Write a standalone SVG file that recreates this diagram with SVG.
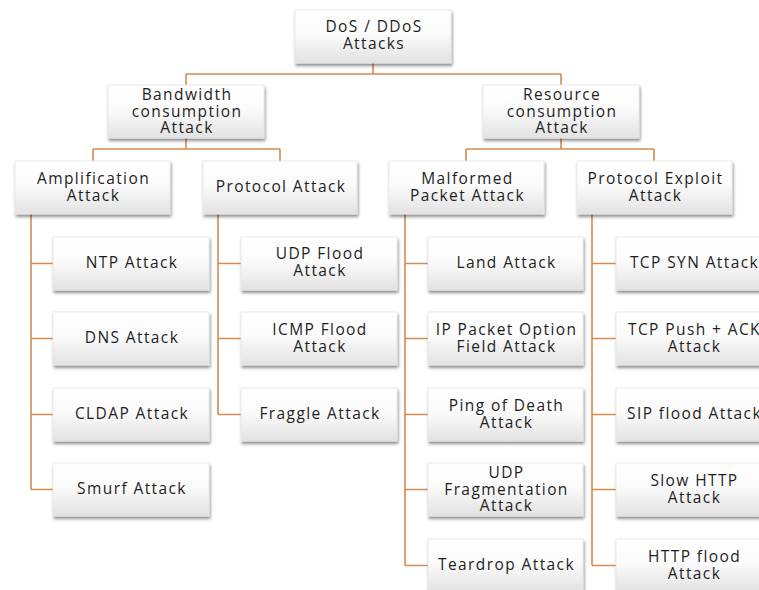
<svg xmlns="http://www.w3.org/2000/svg" width="759" height="590" viewBox="0 0 759 590">
  <defs>
    <linearGradient id="boxFill" x1="0" y1="0" x2="0" y2="1">
      <stop offset="0" stop-color="#ffffff"/>
      <stop offset="0.45" stop-color="#fbfbfb"/>
      <stop offset="1" stop-color="#e2e2e2"/>
    </linearGradient>
    <filter id="shadow" x="-10%" y="-10%" width="125%" height="140%">
      <feDropShadow dx="1" dy="2.5" stdDeviation="1.6" flood-color="#000" flood-opacity="0.45"/>
    </filter>
  </defs>
  <style>
    .box { fill: url(#boxFill); stroke: #e6e6e6; stroke-width: 0.8; filter: url(#shadow); }
    .lbl { font-family: "Open Sans", "DejaVu Sans", sans-serif; font-size: 15.5px; font-weight: 500; letter-spacing: 1.4px; fill: #1e1e1e; text-anchor: middle; }
    .conn { fill: none; stroke: #d58a4f; stroke-width: 1.6; }
  </style>
  <rect width="759" height="590" fill="#ffffff"/>

  <!-- connectors -->
  <g id="connectors" class="conn">
    <path d="M373 63 V74 M186 74 H561 M186 74 V85 M561 74 V85"/>
    <path d="M186 138 V149 M93 149 H280 M93 149 V161 M280 149 V161"/>
    <path d="M561 138 V149 M466 149 H654 M466 149 V161 M654 149 V161"/>
    <path d="M31 214 V489.5 M31 263.5 H53 M31 338.5 H53 M31 414.5 H53 M31 489.5 H53"/>
    <path d="M218 214 V414.5 M218 263.5 H241 M218 338.5 H241 M218 414.5 H241"/>
    <path d="M405 214 V565.5 M405 263.5 H428 M405 338.5 H428 M405 414.5 H428 M405 489.5 H428 M405 565.5 H428"/>
    <path d="M592 214 V565.5 M592 263.5 H616 M592 338.5 H616 M592 414.5 H616 M592 489.5 H616 M592 565.5 H616"/>
  </g>

  <!-- level 0 -->
  <g id="root">
    <rect class="box" x="295" y="10" width="156" height="53"/>
    <text class="lbl" x="374" y="32">DoS / DDoS</text>
    <text class="lbl" x="374" y="49">Attacks</text>
  </g>

  <!-- level 1 -->
  <g id="bandwidth">
    <rect class="box" x="108" y="85" width="156" height="53"/>
    <text class="lbl" x="187" y="100">Bandwidth</text>
    <text class="lbl" x="187" y="117">consumption</text>
    <text class="lbl" x="187" y="133">Attack</text>
  </g>
  <g id="resource">
    <rect class="box" x="483" y="85" width="156" height="53"/>
    <text class="lbl" x="562" y="100">Resource</text>
    <text class="lbl" x="562" y="117">consumption</text>
    <text class="lbl" x="562" y="133">Attack</text>
  </g>

  <!-- level 2 -->
  <g id="amplification">
    <rect class="box" x="15" y="161" width="155" height="53"/>
    <text class="lbl" x="93.5" y="184">Amplification</text>
    <text class="lbl" x="93.5" y="201">Attack</text>
  </g>
  <g id="protocol">
    <rect class="box" x="203" y="161" width="154" height="53"/>
    <text class="lbl" x="281" y="192">Protocol Attack</text>
  </g>
  <g id="malformed">
    <rect class="box" x="389" y="161" width="155" height="53"/>
    <text class="lbl" x="467.5" y="184">Malformed</text>
    <text class="lbl" x="467.5" y="201">Packet Attack</text>
  </g>
  <g id="exploit">
    <rect class="box" x="577" y="161" width="155" height="53"/>
    <text class="lbl" x="655.5" y="184">Protocol Exploit</text>
    <text class="lbl" x="655.5" y="201">Attack</text>
  </g>

  <!-- amplification leaves -->
  <g id="ntp">
    <rect class="box" x="53" y="237" width="156" height="53"/>
    <text class="lbl" x="132" y="268">NTP Attack</text>
  </g>
  <g id="dns">
    <rect class="box" x="53" y="312" width="156" height="53"/>
    <text class="lbl" x="132" y="343">DNS Attack</text>
  </g>
  <g id="cldap">
    <rect class="box" x="53" y="388" width="156" height="53"/>
    <text class="lbl" x="132" y="419">CLDAP Attack</text>
  </g>
  <g id="smurf">
    <rect class="box" x="53" y="463" width="156" height="53"/>
    <text class="lbl" x="132" y="494">Smurf Attack</text>
  </g>

  <!-- protocol leaves -->
  <g id="udp-flood">
    <rect class="box" x="241" y="237" width="156" height="53"/>
    <text class="lbl" x="320" y="259">UDP Flood</text>
    <text class="lbl" x="320" y="276">Attack</text>
  </g>
  <g id="icmp-flood">
    <rect class="box" x="241" y="312" width="156" height="53"/>
    <text class="lbl" x="320" y="335">ICMP Flood</text>
    <text class="lbl" x="320" y="352">Attack</text>
  </g>
  <g id="fraggle">
    <rect class="box" x="241" y="388" width="156" height="53"/>
    <text class="lbl" x="320" y="419">Fraggle Attack</text>
  </g>

  <!-- malformed packet leaves -->
  <g id="land">
    <rect class="box" x="428" y="237" width="155" height="53"/>
    <text class="lbl" x="506.5" y="268">Land Attack</text>
  </g>
  <g id="ip-option">
    <rect class="box" x="428" y="312" width="155" height="53"/>
    <text class="lbl" x="506.5" y="335">IP Packet Option</text>
    <text class="lbl" x="506.5" y="352">Field Attack</text>
  </g>
  <g id="ping-of-death">
    <rect class="box" x="428" y="388" width="155" height="53"/>
    <text class="lbl" x="506.5" y="411">Ping of Death</text>
    <text class="lbl" x="506.5" y="428">Attack</text>
  </g>
  <g id="udp-frag">
    <rect class="box" x="428" y="463" width="155" height="53"/>
    <text class="lbl" x="506.5" y="478">UDP</text>
    <text class="lbl" x="506.5" y="495">Fragmentation</text>
    <text class="lbl" x="506.5" y="511">Attack</text>
  </g>
  <g id="teardrop">
    <rect class="box" x="428" y="539" width="155" height="53"/>
    <text class="lbl" x="506.5" y="570">Teardrop Attack</text>
  </g>

  <!-- protocol exploit leaves -->
  <g id="tcp-syn">
    <rect class="box" x="616" y="237" width="155" height="53"/>
    <text class="lbl" x="694.5" y="268">TCP SYN Attack</text>
  </g>
  <g id="tcp-push-ack">
    <rect class="box" x="616" y="312" width="155" height="53"/>
    <text class="lbl" x="694.5" y="335">TCP Push + ACK</text>
    <text class="lbl" x="694.5" y="352">Attack</text>
  </g>
  <g id="sip-flood">
    <rect class="box" x="616" y="388" width="155" height="53"/>
    <text class="lbl" x="694.5" y="419">SIP flood Attack</text>
  </g>
  <g id="slow-http">
    <rect class="box" x="616" y="463" width="155" height="53"/>
    <text class="lbl" x="694.5" y="486">Slow HTTP</text>
    <text class="lbl" x="694.5" y="503">Attack</text>
  </g>
  <g id="http-flood">
    <rect class="box" x="616" y="539" width="155" height="53"/>
    <text class="lbl" x="694.5" y="562">HTTP flood</text>
    <text class="lbl" x="694.5" y="579">Attack</text>
  </g>
</svg>
